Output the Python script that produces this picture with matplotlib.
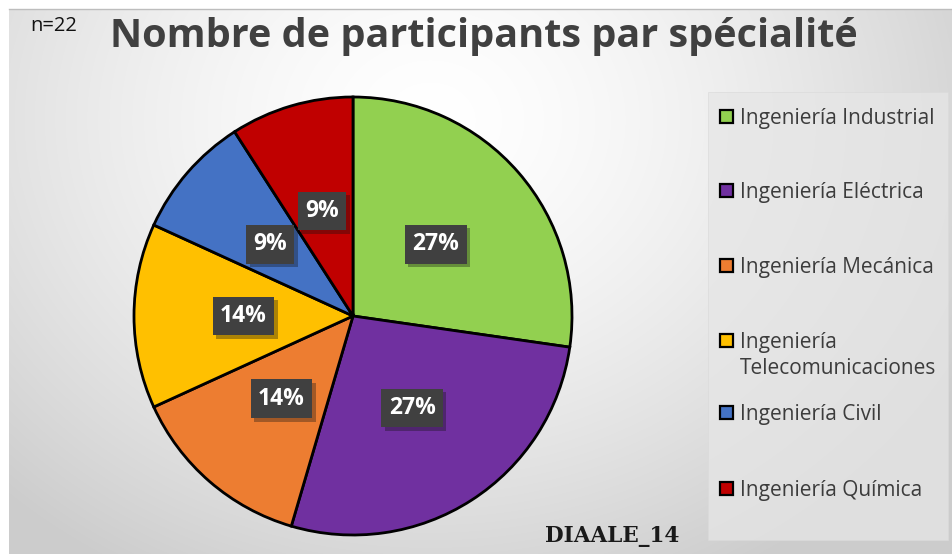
import numpy as np
import matplotlib.pyplot as plt
from matplotlib.patches import Rectangle
import matplotlib.patheffects as pe

# data
labels = ['Ingeniería Industrial', 'Ingeniería Eléctrica', 'Ingeniería Mecánica',
          'Ingeniería\nTelecomunicaciones', 'Ingeniería Civil', 'Ingeniería Química']
counts = [6, 6, 3, 3, 2, 2]   # n=22
colors = ['#92D050', '#7030A0', '#ED7D31', '#FFC000', '#4472C4', '#C00000']

W, H = 952, 554
fig = plt.figure(figsize=(W / 100, H / 100), dpi=100)
fig.patch.set_facecolor('white')

# gradient background (picture area starts a few px in from top/left)
bg = fig.add_axes([0, 0, 1, 1])
x0, y0 = 9, 9
yy, xx = np.mgrid[y0:H, x0:W]
d = np.sqrt(((xx - 430) / 620.0) ** 2 + ((yy - 120) / 520.0) ** 2)
shade = 1.0 - 0.2 * np.clip(d, 0, 1) ** 1.5
img = np.dstack([shade, shade, shade])
bg.imshow(img, extent=[x0, W, H, y0], aspect='auto')
bg.plot([x0, W], [y0, y0], color='#bdbdbd', lw=1)
bg.set_xlim(0, W)
bg.set_ylim(H, 0)
bg.axis('off')
# legend panel
bg.add_patch(Rectangle((708, 92), 240, 448, facecolor='#e6e6e6', edgecolor='#dadada',
                       linewidth=0.6, alpha=0.75))

fig.text(30 / W, 1 - 26 / H, 'n=22', fontsize=14.5, color='#111111',
         family='Open Sans', va='center', ha='left')
fig.text(484 / W, 1 - 37 / H, 'Nombre de participants par spécialité', fontsize=28.5,
         fontweight='bold', color='#404040', family='Open Sans', va='center', ha='center')
fig.text(612 / W, 1 - 536 / H, 'DIAALE_14', fontsize=15.5, fontweight='bold',
         color='#1a1a1a', family='DejaVu Serif', va='center', ha='center')

# pie
cx, cy, r = 353, 316, 219
ax = fig.add_axes([(cx - r) / W, (H - cy - r) / H, 2 * r / W, 2 * r / H])
wedges, texts, autotexts = ax.pie(
    counts, colors=colors, startangle=90, counterclock=False,
    autopct=lambda p: f'{p:.0f}%', pctdistance=0.5, radius=1,
    wedgeprops=dict(edgecolor='black', linewidth=2))
for t in autotexts:
    t.set_color('white')
    t.set_fontsize(16.5)
    t.set_fontweight('bold')
    t.set_family('Open Sans')
    t.set_bbox(dict(boxstyle='square,pad=0.32', facecolor='#404040', edgecolor='none'))
    t.get_bbox_patch().set_path_effects([pe.SimplePatchShadow(offset=(2.5, -2.5), alpha=0.35),
                                         pe.Normal()])
ax.set_xlim(-1, 1)
ax.set_ylim(-1, 1)
ax.set_aspect('equal')

# legend, laid out like the Excel one (wrapped entry keeps its marker on line 1)
leg_y = [116, 190, 265, 340, 412, 488]
for lab, col, y in zip(labels, colors, leg_y):
    bg.add_patch(Rectangle((720, y - 6.5), 13, 13, facecolor=col, edgecolor='black',
                           linewidth=1.6))
    bg.text(740, y - 8, lab, fontsize=15, color='#3c3c3c', family='Open Sans',
            va='top', ha='left', linespacing=1.3)

fig.savefig('out.png', dpi=100)
